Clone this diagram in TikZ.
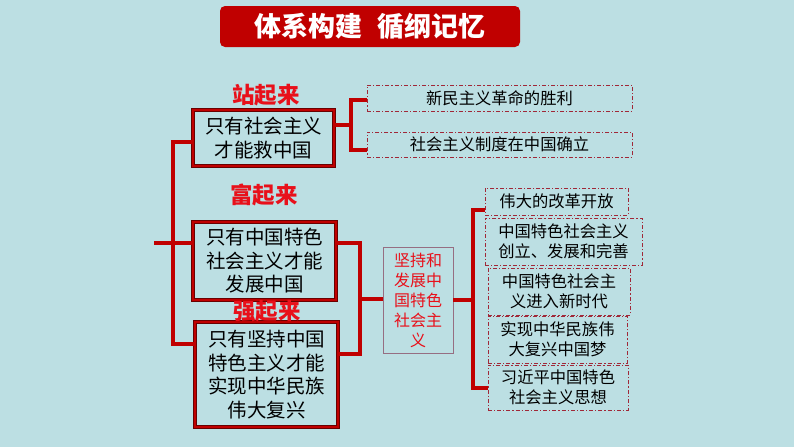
\documentclass[tikz,border=0pt]{standalone}
\usepackage{fontspec}
\newfontfamily\cjk{Noto Sans CJK SC}
\definecolor{bg}{RGB}{188,223,227}
\definecolor{deepred}{RGB}{192,0,0}
\definecolor{dashred}{RGB}{160,40,56}
\definecolor{tagred}{RGB}{232,16,26}
\definecolor{midline}{RGB}{150,110,130}
\begin{document}
\begin{tikzpicture}[x=1pt,y=-1pt,
	link/.style={deepred,line width=3.8pt},
	bigbox/.style={draw=deepred!55!black,double=deepred,double distance=2.6pt,line width=.5pt,align=center,inner sep=0pt,font=\cjk\fontsize{19.5}{23.5}\selectfont},
	dashbox/.style={draw=dashred,line width=1pt,dash pattern=on 4pt off 2pt on 1.2pt off 2pt,align=center,inner sep=0pt,font=\cjk\fontsize{16.3}{20}\selectfont},
	midbox/.style={draw=midline,line width=.8pt,align=center,inner sep=0pt,text=tagred,font=\cjk\fontsize{16}{20}\selectfont},
	tag/.style={text=tagred,font=\cjk\bfseries\fontsize{22.5}{25}\selectfont}]
	\useasboundingbox (0,0) rectangle (794,447);
	\fill[bg] (0,0) rectangle (794,447);
	\node[fill=deepred,rounded corners=5pt,minimum width=300,minimum height=41,text=white,font=\cjk\bfseries\fontsize{27}{30}\selectfont] (banner) at (370,26.5) {体系构建\hspace{16pt}循纲记忆};
	% left column
	\node[bigbox,minimum width=141,minimum height=56] (b1) at (263.5,138) {只有社会主义\\才能救中国};
	\node[bigbox,minimum width=143,minimum height=78] (b2) at (264.5,261) {只有中国特色\\社会主义才能\\发展中国};
	\node[bigbox,minimum width=143,minimum height=105] (b3) at (266.5,374.5) {只有坚持中国\\特色主义才能\\实现中华民族\\伟大复兴};
	\node[tag] (up1) at (266,95) {站起来};
	\node[tag] (up2) at (264,195) {富起来};
	% dashed boxes
	\node[dashbox,minimum width=265,minimum height=26] (dA) at (499.5,98) {新民主义革命的胜利};
	\node[dashbox,minimum width=265,minimum height=25] (dB) at (499.5,144.5) {社会主义制度在中国确立};
	\node[midbox,minimum width=70,minimum height=106] (mid) at (418,300) {坚持和\\发展中\\国特色\\社会主\\义};
	\node[dashbox,minimum width=143,minimum height=27] (r1) at (556.5,201.5) {伟大的改革开放};
	\node[dashbox,minimum width=157,minimum height=47] (r2) at (563.5,241.5) {中国特色社会主义\\创立、发展和完善};
	\node[dashbox,minimum width=142,minimum height=47] (r3) at (559,291.5) {中国特色社会主\\义进入新时代};
	\node[dashbox,minimum width=139,minimum height=47] (r4) at (557.5,339.5) {实现中华民族伟\\大复兴中国梦};
	\node[dashbox,minimum width=140,minimum height=45] (r5) at (558,387.5) {习近平中国特色\\社会主义思想};
	% brackets
	\coordinate (L) at (173,243);
	\coordinate (in) at (154,243);
	\coordinate (J) at (351,125);
	\coordinate (M) at (360,299);
	\coordinate (N) at (473,300);
	\draw[link] (b1.west |- 0,142) -| (L) |- (b3.west |- 0,344);
	\draw[link] (in) -- (b2.west |- in);
	\draw[link] (b1.east |- J) -- (J);
	\draw[link] (dA.west |- 0,100) -| (J) |- (dB.west |- 0,150);
	\draw[link] (b2.east |- 0,243) -| (M) |- (b3.east |- 0,354);
	\draw[link] (M) -- (mid.west |- M);
	\draw[link] (mid.east |- N) -- (N);
	\draw[link] (r1.west |- 0,210) -| (N) |- (r5.west |- 0,388);
	\node[tag] (up3) at (267,311) {强起来};
\end{tikzpicture}
\end{document}
